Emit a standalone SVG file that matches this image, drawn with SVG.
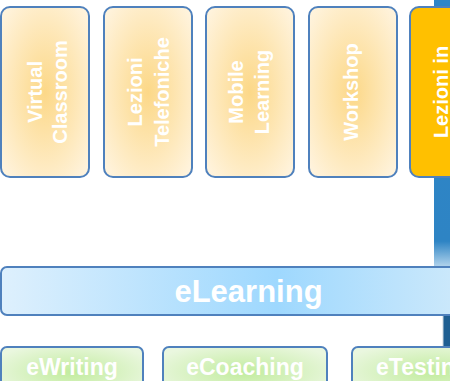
<svg xmlns="http://www.w3.org/2000/svg" width="450" height="381" viewBox="0 0 450 381">
<defs>
<radialGradient id="gold" cx="0.5" cy="0.5" r="0.65">
<stop offset="0" stop-color="#FCD888"/>
<stop offset="1" stop-color="#FFF3DC"/>
</radialGradient>
<radialGradient id="green" cx="0.5" cy="0.5" r="0.6">
<stop offset="0" stop-color="#C2EC9E"/>
<stop offset="1" stop-color="#EAF7DF"/>
</radialGradient>
<linearGradient id="blue" x1="0" y1="0" x2="1" y2="0">
<stop offset="0" stop-color="#DEF0FD"/>
<stop offset="0.6" stop-color="#9ED8FE"/>
<stop offset="1" stop-color="#CDE9FB"/>
</linearGradient>
<linearGradient id="bar" x1="0" y1="0" x2="0" y2="1">
<stop offset="0" stop-color="#2E86C8"/>
<stop offset="0.9" stop-color="#2E84C4"/>
<stop offset="1" stop-color="#B9D8EE"/>
</linearGradient>
</defs>
<style>
.top{fill:url(#gold);stroke:#4F81BD;stroke-width:2}
.grn{fill:url(#green);stroke:#4F81BD;stroke-width:2}
.vt{font-family:"Liberation Sans",Arial,sans-serif;font-weight:bold;font-size:20px;fill:#FFFFFF;text-anchor:middle}
.bt{font-family:"Liberation Sans",Arial,sans-serif;font-weight:bold;font-size:23px;fill:#FFFFFF;text-anchor:middle}
</style>
<rect width="450" height="381" fill="#FFFFFF"/>
<g id="connectors">
<rect x="434" y="0" width="16" height="268" fill="url(#bar)"/>
<rect x="443" y="315" width="7" height="33" fill="#1F5F92"/>
<line x1="443" y1="315" x2="443" y2="348" stroke="#C8D4DE" stroke-width="1"/>
</g>
<g id="n-virtual">
<rect class="top" x="1" y="7" width="88" height="170" rx="9"/>
<text class="vt" transform="translate(42,92) rotate(-90)">Virtual</text>
<text class="vt" transform="translate(67,92) rotate(-90)">Classroom</text>
</g>
<g id="n-telefoniche">
<rect class="top" x="104" y="7" width="88" height="170" rx="9"/>
<text class="vt" transform="translate(142,92) rotate(-90)">Lezioni</text>
<text class="vt" transform="translate(169,92) rotate(-90)">Telefoniche</text>
</g>
<g id="n-mobile">
<rect class="top" x="206" y="7" width="88" height="170" rx="9"/>
<text class="vt" transform="translate(243,92) rotate(-90)">Mobile</text>
<text class="vt" transform="translate(269,92) rotate(-90)">Learning</text>
</g>
<g id="n-workshop">
<rect class="top" x="309" y="7" width="88" height="170" rx="9"/>
<text class="vt" transform="translate(358,92) rotate(-90)">Workshop</text>
</g>
<g id="n-aula">
<rect x="410" y="7" width="88" height="170" rx="9" fill="#FFC000" stroke="#4F81BD" stroke-width="2"/>
<text class="vt" transform="translate(448,92) rotate(-90)">Lezioni in</text>
</g>
<g id="n-elearning">
<rect x="1" y="267" width="460" height="48" rx="6" fill="url(#blue)" stroke="#4F81BD" stroke-width="2"/>
<text x="248.5" y="302" font-family="Liberation Sans, Arial, sans-serif" font-weight="bold" font-size="31" fill="#FFFFFF" text-anchor="middle">eLearning</text>
</g>
<g id="n-ewriting">
<rect class="grn" x="1" y="347" width="142" height="50" rx="6"/>
<text class="bt" x="72" y="375">eWriting</text>
</g>
<g id="n-ecoaching">
<rect class="grn" x="163" y="347" width="164" height="50" rx="6"/>
<text class="bt" x="245" y="375">eCoaching</text>
</g>
<g id="n-etesting">
<rect class="grn" x="352" y="347" width="164" height="50" rx="6"/>
<text class="bt" x="376" y="375" style="text-anchor:start">eTesting</text>
</g>
</svg>
